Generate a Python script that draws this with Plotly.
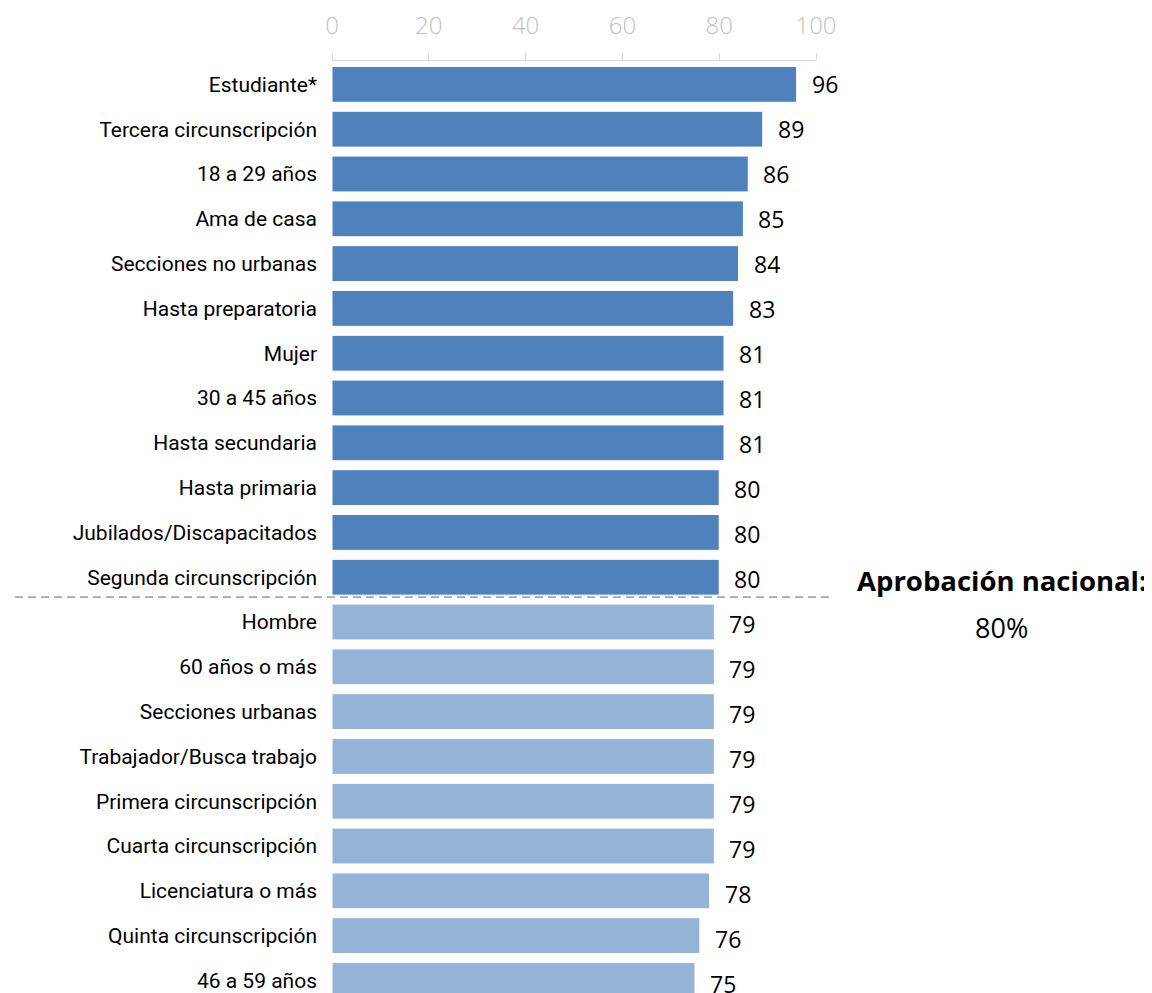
import plotly.graph_objects as go

categories = ["Estudiante*", "Tercera circunscripción", "18 a 29 años", "Ama de casa",
              "Secciones no urbanas", "Hasta preparatoria", "Mujer", "30 a 45 años",
              "Hasta secundaria", "Hasta primaria", "Jubilados/Discapacitados",
              "Segunda circunscripción", "Hombre", "60 años o más", "Secciones urbanas",
              "Trabajador/Busca trabajo", "Primera circunscripción", "Cuarta circunscripción",
              "Licenciatura o más", "Quinta circunscripción", "46 a 59 años"]
values = [96, 89, 86, 85, 84, 83, 81, 81, 81, 80, 80, 80, 79, 79, 79, 79, 79, 79, 78, 76, 75]
national = 80
tick_vals = [0, 20, 40, 60, 80, 100]

DARK = "#4F81BD"
LIGHT = "#95B3D7"
colors = [DARK if v >= national else LIGHT for v in values]
positions = list(range(len(categories)))

fig = go.Figure()
fig.add_trace(go.Bar(
    x=values, y=positions, orientation="h",
    marker=dict(color=colors, line=dict(color="white", width=1)),
    width=0.80, hoverinfo="x+y",
))

for i, v in enumerate(values):
    fig.add_annotation(x=v, y=i, text=str(v), xanchor="left", yanchor="middle",
                       xshift=13, yshift=-i * 0.2, showarrow=False,
                       font=dict(family="Open Sans, Noto Sans, sans-serif", size=23, color="black"))

# separator between above/below national approval
n_above = sum(1 for v in values if v >= national)
sep_y = n_above - 0.5 - 0.055
fig.add_shape(type="line", xref="paper", yref="y",
              x0=-0.655, x1=1.035, y0=sep_y, y1=sep_y,
              line=dict(color="#A6A6A6", width=1.6, dash="8px,5px"))

fig.add_annotation(xref="paper", yref="y", x=1.384, y=sep_y, yshift=17,
                   text="<b>Aprobación nacional:</b>", showarrow=False,
                   xanchor="center", yanchor="middle",
                   font=dict(family="Open Sans, Noto Sans, sans-serif", size=27.5, color="black"))
fig.add_annotation(xref="paper", yref="y", x=1.384, y=sep_y, yshift=-30,
                   text=f"{national}%", showarrow=False,
                   xanchor="center", yanchor="middle",
                   font=dict(family="Open Sans, Noto Sans, sans-serif", size=27, color="black"))

fig.update_layout(
    width=1144, height=985,
    margin=dict(l=324, r=336, t=46.3, b=0),
    plot_bgcolor="white", paper_bgcolor="white",
    showlegend=False,
    bargap=0.2,
    xaxis=dict(side="top", range=[0, 100], tickvals=tick_vals,
               showgrid=False, zeroline=False,
               showline=True, linecolor="#D9D9D9", linewidth=1,
               ticks="outside", ticklen=7, tickcolor="#D9D9D9",
               ticklabelstandoff=9,
               tickfont=dict(family="Open Sans, Noto Sans, sans-serif", size=24,
                             color="#BFBFBF", weight=300)),
    yaxis=dict(range=[20.28, -0.522], tickvals=positions, ticktext=categories,
               showgrid=False, zeroline=False, showline=False, ticks="",
               ticklabelstandoff=14,
               tickfont=dict(family="Roboto, sans-serif", size=21, color="black")),
)

fig.write_html("out.html")
